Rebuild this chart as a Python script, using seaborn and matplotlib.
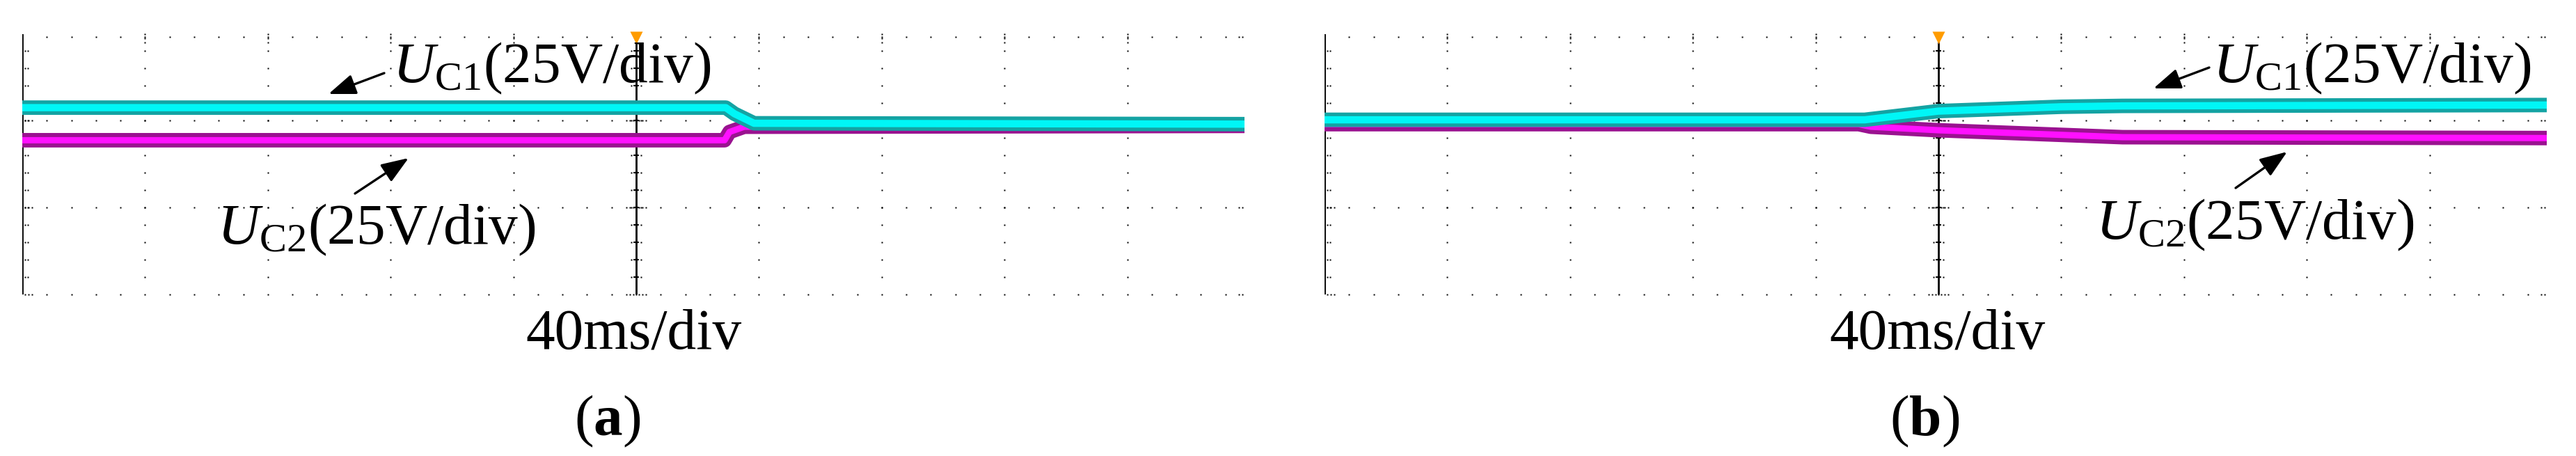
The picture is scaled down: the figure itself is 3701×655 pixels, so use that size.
import numpy as np
import pandas as pd
import seaborn as sns
import matplotlib.pyplot as plt

# figure size in pixels (saved at dpi=100)
W, H = 3701, 655

# --- trace data, in scope divisions (25 V/div, 40 ms/div) ---
# panel (a)
t_a_uc1 = [0, 5.73, 5.80, 5.96, 9.955]
uc1_a = [2.15, 2.15, 2.08, 1.97, 1.96]
t_a_uc2 = [0, 5.72, 5.76, 5.88, 9.955]
uc2_a = [1.775, 1.775, 1.87, 1.93, 1.94]
# panel (b)
t_b_uc1 = [0, 4.4, 5.0, 6.0, 6.5, 9.955]
uc1_b = [2.01, 2.01, 2.11, 2.16, 2.17, 2.18]
t_b_uc2 = [0, 4.35, 4.45, 5.0, 6.5, 9.955]
uc2_b = [1.96, 1.96, 1.93, 1.89, 1.81, 1.80]

label_uc1 = r'$U_{\mathrm{C1}}$(25V/div)'
label_uc2 = r'$U_{\mathrm{C2}}$(25V/div)'
time_label = '40ms/div'
panel_tags = [r'($\mathbf{a}$)', r'($\mathbf{b}$)']

sns.set_style("white")
plt.rcParams['font.family'] = ['Liberation Serif', 'DejaVu Serif']
plt.rcParams['mathtext.fontset'] = 'custom'
plt.rcParams['mathtext.rm'] = 'Liberation Serif'
plt.rcParams['mathtext.it'] = 'Liberation Serif:italic'
plt.rcParams['mathtext.bf'] = 'Liberation Serif:bold'
plt.rcParams['text.color'] = 'black'

fig = plt.figure(figsize=(W / 100, H / 100), dpi=100)

XMAX = 9.955
YMAX = 3.0
TOP_ROW = 2.965


def px(x, y):
    # pixel (from top-left) -> figure pixels (from bottom-left)
    return (x, H - y)


def draw_scope(ax):
    ax.set_xlim(0, XMAX)
    ax.set_ylim(0, YMAX)
    for s in ax.spines.values():
        s.set_visible(False)
    ax.set_xticks([])
    ax.set_yticks([])
    ax.set_facecolor('none')

    dot = dict(ls='none', marker='s', ms=1.5, color='k', mec='none', clip_on=False)
    minor_x = np.arange(0.2, XMAX, 0.2)
    minor_y = np.arange(0.2, YMAX - 0.05, 0.2)
    # horizontal dotted rows
    for yr in [0, 1, 2, TOP_ROW]:
        ax.plot(minor_x, np.full_like(minor_x, yr), **dot)
    # vertical dotted columns
    for xc in [1, 2, 3, 4, 6, 7, 8, 9]:
        ax.plot(np.full_like(minor_y, xc), minor_y, **dot)
        ax.plot([xc] * 3, [2.90, 2.95, 3.0], **dot)
    # left border with ticks
    ax.axvline(0, color='k', lw=2.0)
    for yy in minor_y:
        ax.plot([0.023, 0.045], [yy, yy], **dot)
    for yr in [0, 1, 2]:
        ax.plot([0.023, 0.051, 0.079], [yr] * 3, **dot)
    # right edge ticks
    for yr in [0, 1, 2, TOP_ROW]:
        ax.plot([XMAX - 0.045, XMAX - 0.017], [yr, yr], **dot)
    # center (trigger) line with ticks
    ax.axvline(5, color='k', lw=2.0)
    for yy in minor_y:
        ax.plot([4.96, 5.04], [yy, yy], **dot)
        ax.plot([4.985, 5.015], [yy, yy], color='k', lw=1.6)
    for yr in [0, 1, 2]:
        ax.plot([4.921, 4.949, 4.977, 5.023, 5.051, 5.079], [yr] * 6, **dot)
    # trigger marker
    ax.plot(5, 2.955, marker='v', ms=13, color='#ff9c00', mec='none', clip_on=False, zorder=6)


def draw_traces(ax, t1, v1, t2, v2):
    d1 = pd.DataFrame({'t': t1, 'v': v1})
    d2 = pd.DataFrame({'t': t2, 'v': v2})
    sns.lineplot(data=d2, x='t', y='v', ax=ax, color='#9a1290', lw=15, sort=False, zorder=3)
    sns.lineplot(data=d2, x='t', y='v', ax=ax, color='#ff10ff', lw=6.5, sort=False, zorder=3)
    sns.lineplot(data=d1, x='t', y='v', ax=ax, color='#14a3a3', lw=15, sort=False, zorder=4)
    sns.lineplot(data=d1, x='t', y='v', ax=ax, color='#00f6f6', lw=7.5, sort=False, zorder=4)
    ax.set_xlabel('')
    ax.set_ylabel('')


# axes positions (pixels): panel a 32..1788, panel b 1903..3659, y 48.5..423
top_px, bot_px = 48.5, 423
for left_px, (t1, v1, t2, v2) in zip(
        [32, 1903],
        [(t_a_uc1, uc1_a, t_a_uc2, uc2_a), (t_b_uc1, uc1_b, t_b_uc2, uc2_b)]):
    width_px = XMAX * 176.4
    ax = fig.add_axes([left_px / W, (H - bot_px) / H, width_px / W, (bot_px - top_px) / H])
    draw_scope(ax)
    draw_traces(ax, t1, v1, t2, v2)
    ax.set_xlim(0, XMAX)
    ax.set_ylim(0, YMAX)

FS = 60
txt = dict(fontsize=FS, ha='left', va='baseline', color='black')

# panel (a) annotations
fig.text(564 / W, 1 - 118 / H, label_uc1, **txt)
fig.text(312 / W, 1 - 350 / H, label_uc2, **txt)
# panel (b) annotations
fig.text(3179 / W, 1 - 118 / H, label_uc1, **txt)
fig.text(3011 / W, 1 - 343 / H, label_uc2, **txt)

arrows = [((552, 105), (472, 135)), ((510, 278), (587, 227)),
          ((3174, 97), (3094, 127)), ((3212, 270), (3286, 218))]
for tail, head in arrows:
    fig.add_artist(plt.matplotlib.patches.FancyArrowPatch(
        posA=px(*tail), posB=px(*head), transform=None,
        arrowstyle='-|>,head_length=1.2,head_width=0.45', mutation_scale=20,
        lw=2.4, color='k', shrinkA=0, shrinkB=0))

# time scale and panel tags
for cx, tag_x, tag in zip([910, 2783], [873, 2765], panel_tags):
    fig.text(cx / W, 1 - 501 / H, time_label, fontsize=FS, ha='center', va='baseline', color='black')
    fig.text(tag_x / W, 1 - 625 / H, tag, fontsize=FS, ha='center', va='baseline', color='black')

fig.savefig('out.png', dpi=100)
